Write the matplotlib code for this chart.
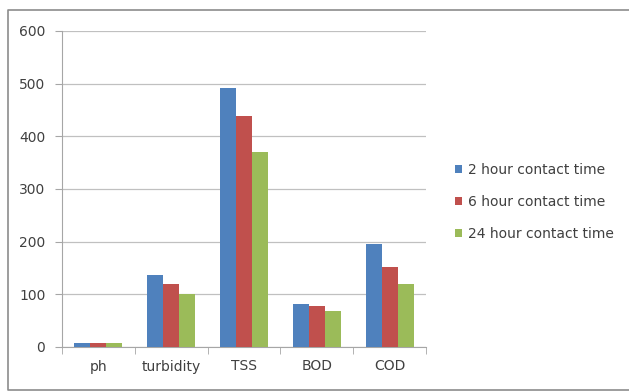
import matplotlib.pyplot as plt
import numpy as np
from matplotlib.lines import Line2D

# data
categories = ['ph', 'turbidity', 'TSS', 'BOD', 'COD']
series_names = ['2 hour contact time', '6 hour contact time', '24 hour contact time']
hour2 = [7, 137, 492, 81, 196]
hour6 = [7, 119, 439, 78, 151]
hour24 = [7, 101, 371, 68, 120]
colors = ['#4F81BD', '#C0504D', '#9BBB59']

fig = plt.figure(figsize=(6.29, 3.92), dpi=100)
ax = fig.add_axes([62/629, 1-347/392, 364/629, 316/392])

x = np.arange(len(categories))
w = 0.22
for i, (vals, name) in enumerate(zip([hour2, hour6, hour24], series_names)):
    ax.bar(x + (i-1)*w, vals, w, color=colors[i], label=name, zorder=3)

ax.set_xlim(-0.5, len(categories)-0.5)
ax.set_ylim(0, 600)
ax.set_yticks(range(0, 601, 100))
ax.set_xticks(x)
ax.set_xticklabels(categories)
ax.set_xticks(np.arange(-0.5, len(categories), 1), minor=True)
ax.grid(axis='y', color='#C0C0C0', linewidth=0.9, zorder=0)

for s in ['top', 'right']:
    ax.spines[s].set_visible(False)
ax.spines['left'].set_color('#A6A6A6')
ax.spines['bottom'].set_color('#A6A6A6')
ax.tick_params(axis='x', which='major', length=0, pad=9, labelsize=10, labelcolor='#404040')
ax.tick_params(axis='x', which='minor', length=5, color='#A6A6A6')
ax.tick_params(axis='y', length=5, color='#A6A6A6', labelsize=10, labelcolor='#404040', pad=7)

ax.legend(loc='center left', bbox_to_anchor=(442/629, 1-202/392), bbox_transform=fig.transFigure,
          frameon=False, fontsize=10, handlelength=0.55, handleheight=0.55,
          handletextpad=0.4, labelspacing=1.3, labelcolor='#404040')

# outer chart border (left, top, bottom; right side cut off)
bx0, bx1, by0, by1 = 8/629, 1.0, 2/392, 382/392
fig.add_artist(Line2D([bx1, bx0, bx0, bx1], [by1, by1, by0, by0], transform=fig.transFigure,
                      color='#8C8C8C', linewidth=1.2))

fig.savefig('out.png', dpi=100)
